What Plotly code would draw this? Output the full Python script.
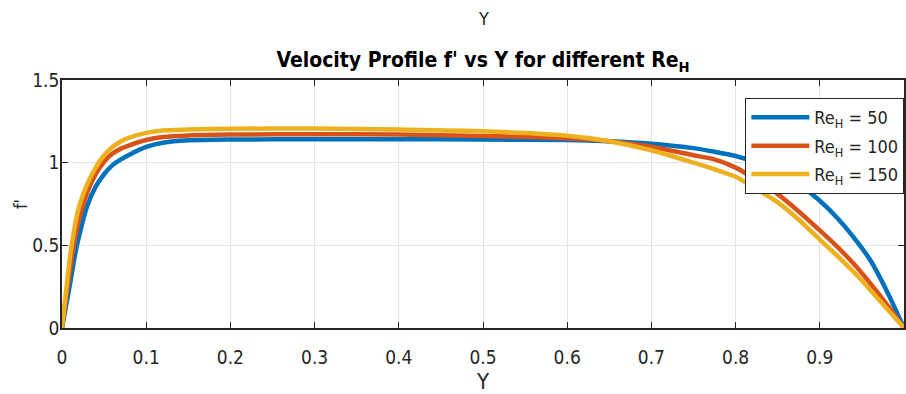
import plotly.graph_objects as go

# Wall-normal coordinate Y and streamwise velocity f' for each Reynolds number
Y = [0.0, 0.005, 0.01, 0.015, 0.02, 0.03, 0.04, 0.05, 0.06, 0.07, 0.08, 0.1,
     0.12, 0.15, 0.2, 0.3, 0.4, 0.5, 0.6, 0.65, 0.7, 0.75, 0.775, 0.8, 0.825,
     0.85, 0.875, 0.9, 0.92, 0.94, 0.96, 0.98, 1.0]

fp_re50 = [0.0, 0.14, 0.28, 0.43, 0.55, 0.74, 0.855, 0.93, 0.985, 1.02, 1.048, 1.095,
           1.12, 1.135, 1.14, 1.142, 1.142, 1.14, 1.137, 1.13, 1.115, 1.088, 1.066, 1.04, 1.0,
           0.945, 0.87, 0.77, 0.67, 0.55, 0.41, 0.22, 0.0]

fp_re100 = [0.0, 0.19, 0.37, 0.53, 0.65, 0.82, 0.93, 1.005, 1.055, 1.085, 1.105, 1.137,
            1.155, 1.165, 1.17, 1.172, 1.17, 1.162, 1.148, 1.13, 1.096, 1.045, 1.02, 0.97, 0.895,
            0.81, 0.705, 0.59, 0.495, 0.39, 0.27, 0.14, 0.0]

fp_re150 = [0.0, 0.23, 0.45, 0.61, 0.73, 0.87, 0.97, 1.045, 1.095, 1.13, 1.152, 1.18,
            1.195, 1.2, 1.205, 1.207, 1.2, 1.19, 1.163, 1.13, 1.075, 1.0, 0.96, 0.915, 0.84,
            0.76, 0.655, 0.535, 0.44, 0.34, 0.23, 0.115, 0.0]

series = [
    ("Re<sub>H</sub> = 50", fp_re50, "#0072BD"),
    ("Re<sub>H</sub> = 100", fp_re100, "#D95319"),
    ("Re<sub>H</sub> = 150", fp_re150, "#EDB120"),
]

x_ticks = [0, 0.1, 0.2, 0.3, 0.4, 0.5, 0.6, 0.7, 0.8, 0.9, 1.0]
x_tick_labels = ["0", "0.1", "0.2", "0.3", "0.4", "0.5", "0.6", "0.7", "0.8", "0.9", "1"]
y_ticks = [0, 0.5, 1, 1.5]
y_tick_labels = ["0", "0.5", "1", "1.5"]

FONT = "DejaVu Sans Condensed, Liberation Sans, sans-serif"
INK = "#262626"
H = 394
TOP, BOTTOM = 80, 66
PLOT_H = H - TOP - BOTTOM

fig = go.Figure()
for name, vals, color in series:
    fig.add_trace(go.Scatter(
        x=Y, y=vals, mode="lines", name=name, legendgroup=name,
        line=dict(color=color, width=4.5, shape="spline", smoothing=0.6),
    ))

fig.update_layout(
    width=906, height=H,
    margin=dict(l=62, r=0, t=TOP, b=BOTTOM),
    paper_bgcolor="white", plot_bgcolor="white",
    font=dict(family=FONT, size=18, color=INK),
    title=dict(
        text="<b>Velocity Profile f' vs Y for different Re<sub>H</sub></b>",
        x=0.5, xref="paper", xanchor="center",
        y=1 - 60 / H, yref="container", yanchor="middle",
        font=dict(family=FONT, size=21, color="black"),
    ),
    showlegend=True,
    legend=dict(
        x=0.8116, y=0.927, xanchor="left", yanchor="top",
        bgcolor="white", bordercolor=INK, borderwidth=1,
        font=dict(family=FONT, size=18, color=INK),
        itemwidth=58, tracegroupgap=2,
    ),
)

fig.update_xaxes(
    range=[0, 1], tickvals=x_ticks, ticktext=x_tick_labels,
    ticks="inside", ticklen=6, tickcolor=INK, tickwidth=1,
    showline=True, linecolor=INK, linewidth=1.5, mirror="ticks",
    showgrid=True, gridcolor="#e3e3e3", gridwidth=1, zeroline=False,
    ticklabelstandoff=11,
    title=dict(text="Y", font=dict(family=FONT, size=22, color=INK), standoff=8),
    tickfont=dict(family=FONT, size=19, color=INK),
)
fig.update_yaxes(
    range=[0, 1.5], tickvals=y_ticks, ticktext=y_tick_labels,
    ticks="inside", ticklen=6, tickcolor=INK, tickwidth=1,
    showline=True, linecolor=INK, linewidth=1.5, mirror="ticks",
    showgrid=True, gridcolor="#e3e3e3", gridwidth=1, zeroline=False,
    ticklabelstandoff=-3,
    title=dict(text="f'", font=dict(family=FONT, size=18, color=INK), standoff=0),
    tickfont=dict(family=FONT, size=19, color=INK),
)

# Small "Y" caption above the title
fig.add_annotation(
    text="Y", x=0.5, xref="paper", y=(H - BOTTOM - 18) / PLOT_H, yref="paper",
    showarrow=False, font=dict(family=FONT, size=18, color=INK),
    xanchor="center", yanchor="middle",
)

fig.write_html("out.html")
